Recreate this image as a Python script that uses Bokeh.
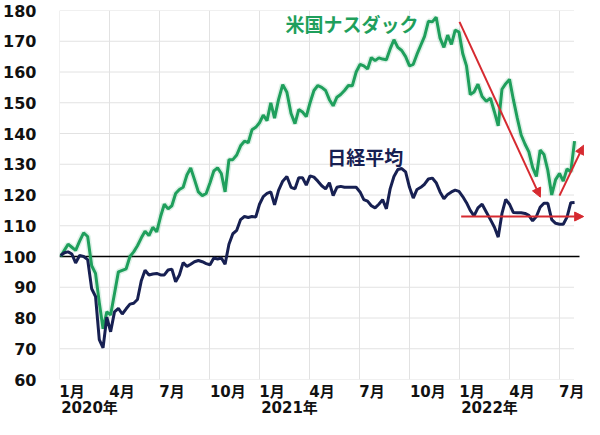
import pandas as pd

from bokeh.plotting import figure
from bokeh.models import FixedTicker, LinearAxis, Range1d, Arrow, NormalHead
from bokeh.core.properties import value
from bokeh.embed import file_html
from bokeh.resources import INLINE

# weekly closes, indexed to 100 at the start of 2020
weeks = pd.date_range("2020-01-03", periods=135, freq="7D")

nasdaq = [100, 102, 104, 103, 102, 105, 107.7, 106.5, 97, 94.5,
          85, 76.5, 82, 81, 88, 95, 95.5, 96, 100, 101.5,
          103.5, 106, 108.2, 106.8, 109.5, 108, 113, 117, 115.5, 116.5,
          120.5, 121.8, 122.5, 126.5, 128.8, 125, 121, 119.8, 120.5, 124,
          127.8, 128.8, 127, 121, 131.5, 131.5, 133, 136, 137.5, 137,
          141.2, 142, 143.5, 146, 144.2, 150, 145, 151, 155.9, 153.4,
          146.5, 143.2, 147.8, 147, 145.5, 150, 154, 155.6, 155, 154,
          151, 149, 151.8, 152.7, 154, 155.6, 155.5, 160, 162.5, 162,
          161, 164.7, 163.7, 164.6, 164.2, 164, 167.5, 170.5, 168, 167,
          165, 162, 162.5, 165.8, 168.7, 171.6, 176.5, 176.3, 177.8, 171,
          168, 172, 169, 173.6, 173, 166, 162, 152.7, 153.5, 156,
          152, 150.5, 151.5, 147, 142.5, 154.4, 156.2, 157.6, 151, 145,
          139.5, 136.5, 134, 129, 126, 134.6, 133.2, 128, 120, 125,
          127, 124.5, 128.5, 127.5, 137.5]

nikkei = [100.3, 101.2, 101.5, 100.8, 97.9, 100.3, 100, 99, 89.5, 87,
          73, 70.3, 80.3, 75.5, 82, 83.1, 81.3, 83, 84.5, 84.8,
          86, 92, 95.5, 94, 94.3, 94.5, 94, 94, 95.6, 95.9,
          91.8, 94, 98, 96.8, 97.5, 98.3, 98.7, 98.3, 97.7, 97.3,
          99.5, 99.2, 99.5, 97.5, 104, 107.4, 108.5, 112, 113, 112.7,
          113, 112.8, 117, 119.5, 120.5, 121, 116.8, 121.5, 124.5, 126,
          122.5, 122, 125.6, 125.6, 123.2, 126.2, 125.8, 124.5, 123, 122,
          124, 119.8, 122.5, 122.8, 122.5, 122.5, 122.5, 122.5, 121, 118.5,
          118, 116.5, 115.8, 117, 118.5, 115.5, 122, 126, 128.3, 128.6,
          127.5, 122.5, 119, 121.8, 122.5, 123.5, 125.2, 125.5, 124, 121,
          118.8, 120.2, 121, 121.6, 121.2, 119.5, 117.5, 115, 113.2, 115.8,
          117, 114.5, 112, 109.5, 106.3, 114, 118.6, 117, 114.3, 114.2,
          114.2, 114, 113.4, 111.6, 113, 116, 117.3, 117.3, 112, 110.8,
          110.5, 110.5, 112.8, 117.5, 117.6]

y_ticks = list(range(60, 181, 10))
quarters = list(range(0, 31, 3))
month_names = ["1月", "4月", "7月", "10月"]
year_names = ["2020年", "2021年", "2022年"]

# red trend arrows (months since Jan 2020, index value)
down_arrow = [(24.0, 176.3), (28.85, 119.3)]
up_arrow = [(30.0, 119.8), (31.45, 136.2)]
flat_arrow = [(24.1, 113.0), (31.45, 113.0)]

GREEN = "#1f9f5c"
NAVY = "#172052"
RED = "#d62a30"
FONT = "DejaVu Sans, Noto Sans CJK JP"


def to_month(d):
    return (d.year - 2020) * 12 + d.month - 1 + (d.day - 1) / d.days_in_month


x = [to_month(d) for d in weeks]

p = figure(width=584, height=419,
           x_range=Range1d(0, 31.5), y_range=Range1d(60, 180),
           output_backend="svg", toolbar_location=None,
           min_border_left=45, min_border_right=0,
           min_border_top=10, min_border_bottom=34)
p.outline_line_color = None
p.xgrid.visible = False
p.ygrid.visible = False

# grid lines
grid_end = 30.87
p.segment(x0=[0] * len(y_ticks), y0=y_ticks, x1=[grid_end] * len(y_ticks), y1=y_ticks,
          line_color="#e2e2e2", line_width=1)
p.segment(x0=quarters, y0=[60] * len(quarters), x1=quarters, y1=[180] * len(quarters),
          line_color="#e2e2e2", line_width=1)
p.line([0, 31.2], [100, 100], line_color="black", line_width=1.5)

p.line(x, nasdaq, line_color=GREEN, line_width=6, line_alpha=0.15)
p.line(x, nasdaq, line_color=GREEN, line_width=3)
p.line(x, nikkei, line_color=NAVY, line_width=3)

for (x0, y0), (x1, y1) in [down_arrow, up_arrow, flat_arrow]:
    p.add_layout(Arrow(x_start=x0, y_start=y0, x_end=x1, y_end=y1,
                       line_color=RED, line_width=2,
                       end=NormalHead(size=9, fill_color=RED, line_color=RED)))

p.text(x=[13.56], y=[175.2], text=["米国ナスダック"], text_color=GREEN,
       text_font=value(FONT), text_font_size="19px", text_font_style="bold",
       text_baseline="middle")
p.text(x=[16.07], y=[132.0], text=["日経平均"], text_color=NAVY,
       text_font=value(FONT), text_font_size="19px", text_font_style="bold",
       text_baseline="middle")

# y axis
p.yaxis.ticker = FixedTicker(ticks=y_ticks)
p.yaxis.axis_line_color = None
p.yaxis.major_tick_line_color = None
p.yaxis.minor_tick_line_color = None
p.yaxis.major_label_standoff = 17
p.yaxis.major_label_text_font = FONT
p.yaxis.major_label_text_font_size = "16px"
p.yaxis.major_label_text_font_style = "bold"
p.yaxis.major_label_text_color = "#111111"

# month labels sit just right of the quarter lines
month_pos = []
month_lab = {}
for q in quarters:
    name = month_names[(q % 12) // 3]
    pos = q + (1.1 if name == "10月" else 0.75)
    month_pos.append(pos)
    month_lab[pos] = name

year_pos = []
year_lab = {}
for i, name in enumerate(year_names):
    pos = i * 12 + 1.8
    year_pos.append(pos)
    year_lab[pos] = name

p.xaxis.ticker = FixedTicker(ticks=month_pos)
p.xaxis.major_label_overrides = month_lab

year_axis = LinearAxis(ticker=FixedTicker(ticks=year_pos), major_label_overrides=year_lab)
p.add_layout(year_axis, "below")

for ax in [p.xaxis[0], year_axis]:
    ax.axis_line_color = None
    ax.major_tick_line_color = None
    ax.minor_tick_line_color = None
    ax.major_tick_out = 0
    ax.major_label_text_font = FONT
    ax.major_label_text_font_size = "15px"
    ax.major_label_text_font_style = "bold"
    ax.major_label_text_color = "#111111"
p.xaxis[0].major_label_standoff = 3
year_axis.major_label_standoff = -5

open("out.html", "w").write(file_html(p, INLINE))
